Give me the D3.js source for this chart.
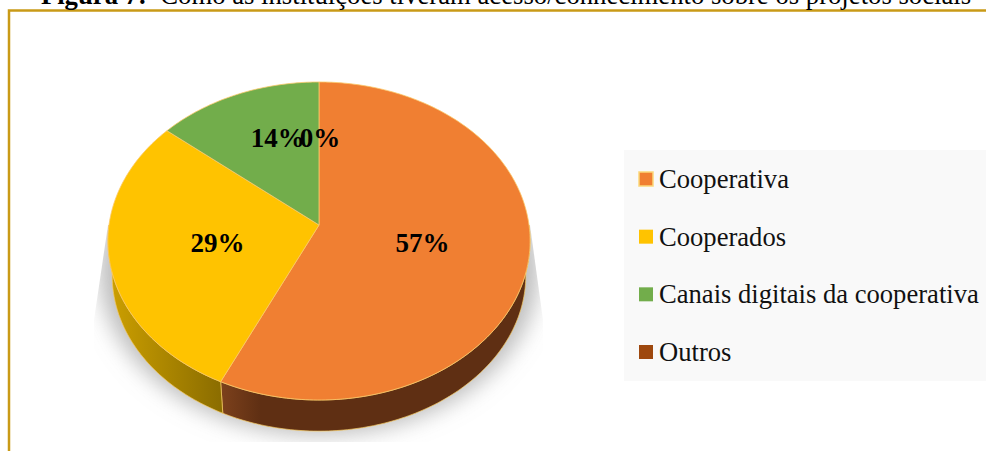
<!DOCTYPE html>
<html>
<head>
<meta charset="utf-8">
<script src="https://cdn.jsdelivr.net/npm/d3@7/dist/d3.min.js"></script>
<style>
html,body{margin:0;padding:0;background:#fff;overflow:hidden}
svg{display:block}
text{font-family:"Liberation Serif",serif}
</style>
</head>
<body>
<svg id="chart" width="986" height="451"></svg>
<script>
const categories = ["Cooperativa", "Cooperados", "Canais digitais da cooperativa", "Outros"];
const shares = [57, 29, 14, 0];
const topColors = ["#f07f32", "#ffc300", "#72ad4b", "#9e480e"];
const wallColors = [["#7d411c", "#5f2f13"], ["#cda000", "#8a6c00"], ["#4a7030", "#3d5e28"], ["#6a3009", "#5a2808"]];
const titleBold = "Figura 7:";
const titleRest = "  Como as instituições tiveram acesso/conhecimento sobre os projetos sociais";

const svg = d3.select("#chart");
const defs = svg.append("defs");

// Tilted disc: a unit circle seen in perspective, so the apex sits above the ellipse centre.
const apex = {x: 319, y: 225};
const spreadX = 210, spreadY = 157.4, persp = 0.1006, depth = 35, baseRadius = 0.98;
function project(angle, r = 1, drop = 0) {
  const u = r * Math.sin(angle), v = -r * Math.cos(angle), w = 1 - persp * v;
  return [apex.x + spreadX * u / w, apex.y + spreadY * v / w + drop];
}
const pts = d3.line();
function arcPoints(a0, a1, r = 1, drop = 0) {
  const n = Math.max(2, Math.ceil(Math.abs(a1 - a0) * 60));
  return d3.range(n + 1).map(i => project(a0 + (a1 - a0) * i / n, r, drop));
}

const pie = d3.pie().value(d => d).sort(null);
const slices = pie(shares);

// Ground shadow, trimmed to a tapered box
defs.append("filter").attr("id", "soft").attr("x", "-20%").attr("y", "-20%").attr("width", "140%").attr("height", "140%")
  .append("feGaussianBlur").attr("stdDeviation", 11);
defs.append("clipPath").attr("id", "shadowClip").append("polygon")
  .attr("points", "108,225 530,225 543,320 543,442 94,442 94,320");

// Frame
svg.append("rect").attr("x", 9).attr("y", 10.5).attr("width", 990).attr("height", 460)
  .attr("fill", "#fff").attr("stroke", "#c99a17").attr("stroke-width", 2.5);

// Title, cut off by the top edge of the page
const title = svg.append("text").attr("x", 506).attr("y", 4).attr("text-anchor", "middle")
  .attr("font-size", 26.7).attr("fill", "#000").attr("xml:space", "preserve");
title.append("tspan").attr("font-weight", "bold").text(titleBold);
title.append("tspan").text(titleRest);

svg.append("g").attr("clip-path", "url(#shadowClip)").append("path")
  .attr("d", pts(arcPoints(0, 2 * Math.PI, 1.04, 27)) + "Z")
  .attr("fill", "#9a9a9a").attr("fill-opacity", 0.66).attr("filter", "url(#soft)");

// Side wall: only the part of each slice's rim that faces the viewer
const wallStart = Math.PI / 2, wallEnd = 3 * Math.PI / 2;
const wallG = svg.append("g");
slices.forEach((s, i) => {
  const a0 = Math.max(s.startAngle, wallStart), a1 = Math.min(s.endAngle, wallEnd);
  if (a1 <= a0) return;
  const top = arcPoints(a0, a1);
  const bottom = arcPoints(a1, a0, baseRadius, depth);
  const xs = top.concat(bottom).map(p => p[0]);
  const gid = "wall" + i;
  const grad = defs.append("linearGradient").attr("id", gid).attr("gradientUnits", "userSpaceOnUse")
    .attr("x1", d3.min(xs)).attr("x2", d3.max(xs)).attr("y1", 0).attr("y2", 0);
  const stops = i === 0
    ? [[0, wallColors[0][0]], [0.13, wallColors[0][1]], [1, wallColors[0][1]]]
    : [[0, wallColors[i][0]], [1, wallColors[i][1]]];
  grad.selectAll("stop").data(stops).join("stop")
    .attr("offset", d => d[0]).attr("stop-color", d => d[1]);
  wallG.append("path").attr("d", pts(top.concat(bottom)) + "Z").attr("fill", "url(#" + gid + ")")
    .attr("stroke", "#f5c860").attr("stroke-width", 0.7);
});

// Top face of the pie
svg.append("g").selectAll("path").data(slices.filter(s => s.value > 0)).join("path")
  .attr("d", s => pts([[apex.x, apex.y]].concat(arcPoints(s.startAngle, s.endAngle))) + "Z")
  .attr("fill", s => topColors[s.index])
  .attr("stroke", "#fbc96a").attr("stroke-width", 0.8).attr("stroke-linejoin", "round");

// Percentage labels; those on the far half of the disc share one row
const farRowY = 137;
const labelSpot = s => {
  const mid = (s.startAngle + s.endAngle) / 2;
  const p = project(mid, 0.495);
  return Math.cos(mid) > 0 ? [p[0] + 1, farRowY] : [p[0] + 1, p[1]];
};
svg.append("g").selectAll("text").data(slices).join("text")
  .attr("x", s => labelSpot(s)[0])
  .attr("y", s => labelSpot(s)[1])
  .attr("dy", "0.36em")
  .attr("text-anchor", "middle").attr("font-size", 27).attr("font-weight", "bold").attr("fill", "#000")
  .text(s => s.value + "%");

// Legend
const legendY = d3.scalePoint().domain(categories).range([179, 352]);
svg.append("rect").attr("x", 624).attr("y", 150).attr("width", 362).attr("height", 231).attr("fill", "#f9f9f9");
const legend = svg.append("g").selectAll("g").data(categories).join("g")
  .attr("transform", d => `translate(0,${legendY(d)})`);
legend.append("rect").attr("x", 639).attr("y", -7).attr("width", 14).attr("height", 14)
  .attr("fill", (d, i) => topColors[i])
  .attr("stroke", (d, i) => i === 0 ? "#fbd77a" : "none").attr("stroke-width", 1.5);
legend.append("text").attr("x", 659).attr("y", 9).attr("font-size", 26.6).attr("fill", "#111").text(d => d);
</script>
</body>
</html>
